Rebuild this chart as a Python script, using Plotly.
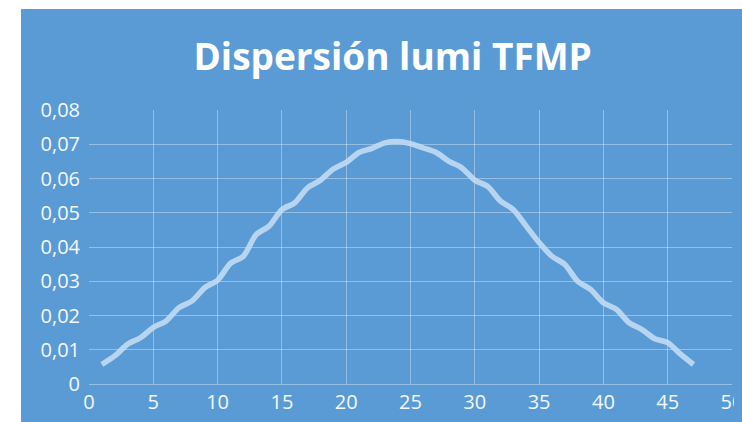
import plotly.graph_objects as go

x_vals = list(range(1, 48))
y_vals = [0.0057, 0.0082, 0.0116, 0.0135, 0.0165, 0.0184, 0.0223, 0.0242, 0.0281, 0.0303,
          0.0352, 0.0373, 0.0436, 0.0461, 0.0509, 0.0529, 0.0573, 0.0595, 0.0628, 0.0647,
          0.0676, 0.0688, 0.0704, 0.0708, 0.0702, 0.0689, 0.0676, 0.0650, 0.0631, 0.0595,
          0.0577, 0.0534, 0.0509, 0.0461, 0.0413, 0.0373, 0.0349, 0.0300, 0.0276, 0.0237,
          0.0218, 0.0179, 0.0159, 0.0132, 0.0121, 0.0087, 0.0057]
y_tickvals = [0, 0.01, 0.02, 0.03, 0.04, 0.05, 0.06, 0.07, 0.08]
y_ticktext = ["0", "0,01", "0,02", "0,03", "0,04", "0,05", "0,06", "0,07", "0,08"]
x_tickvals = [0, 5, 10, 15, 20, 25, 30, 35, 40, 45, 50]
title_text = "Dispersión lumi TFMP"

# page body keeps its default 8px margin: the figure sits at (8, 8) and fits inside the window
OFF = 8
W, H = 742 - 2 * OFF, 422 - 2 * OFF
L, T = 89 - OFF, 110 - OFF
R = W - (731.7 - OFF)
B = H - (384 - OFF)
pw, ph = W - L - R, H - T - B
BLUE = "#5B9BD5"

fig = go.Figure()
fig.add_trace(go.Scatter(
    x=x_vals, y=y_vals, mode="lines",
    line=dict(color="rgba(200,222,244,0.85)", width=5.5, shape="spline", smoothing=0.8),
    showlegend=False, hoverinfo="skip"))

grid = "rgba(255,255,255,0.35)"
font_fam = "Open Sans, sans-serif"
fig.update_layout(
    width=W, height=H,
    margin=dict(l=L, r=R, t=T, b=B, autoexpand=False),
    paper_bgcolor="white", plot_bgcolor="rgba(0,0,0,0)",
    separators=",.",
    title=dict(text="<b>" + title_text + "</b>", x=(392.5 - OFF - L) / pw, xref="paper", xanchor="center",
               y=1 - (57 - OFF) / H, yanchor="middle",
               font=dict(family=font_fam, size=37, color="white")),
    xaxis=dict(range=[0, 50], tickvals=x_tickvals, showgrid=True, gridcolor=grid, gridwidth=1.2,
               zeroline=False, showline=True, linecolor=grid, linewidth=1.2,
               tickfont=dict(family=font_fam, size=20, color="#f4f8fc"), ticks="",
               ticklabelstandoff=0, ticklabeloverflow="allow"),
    yaxis=dict(range=[0, 0.08], tickvals=y_tickvals, ticktext=y_ticktext, showgrid=True,
               gridcolor=grid, gridwidth=1.2, zeroline=False, showline=False,
               tickfont=dict(family=font_fam, size=20, color="#f4f8fc"), ticks="", ticklabelstandoff=8),
    shapes=[dict(type="rect", xref="paper", yref="paper",
                 x0=(21 - 89) / pw, x1=(W - L) / pw, y0=-(B + 2) / ph, y1=(H - B - (9 - OFF)) / ph,
                 fillcolor=BLUE, line=dict(width=0), layer="below")],
)
page_js = ("document.documentElement.style.overflow='hidden';"
           "document.body.style.background='linear-gradient(to right, white 21px, transparent 21px), "
           "linear-gradient(to bottom, white 9px, " + BLUE + " 9px)';"
           "document.querySelectorAll('svg.main-svg').forEach(function(s){s.style.overflow='visible';});")
fig.write_html("out.html", config={"displayModeBar": False}, post_script=page_js)
